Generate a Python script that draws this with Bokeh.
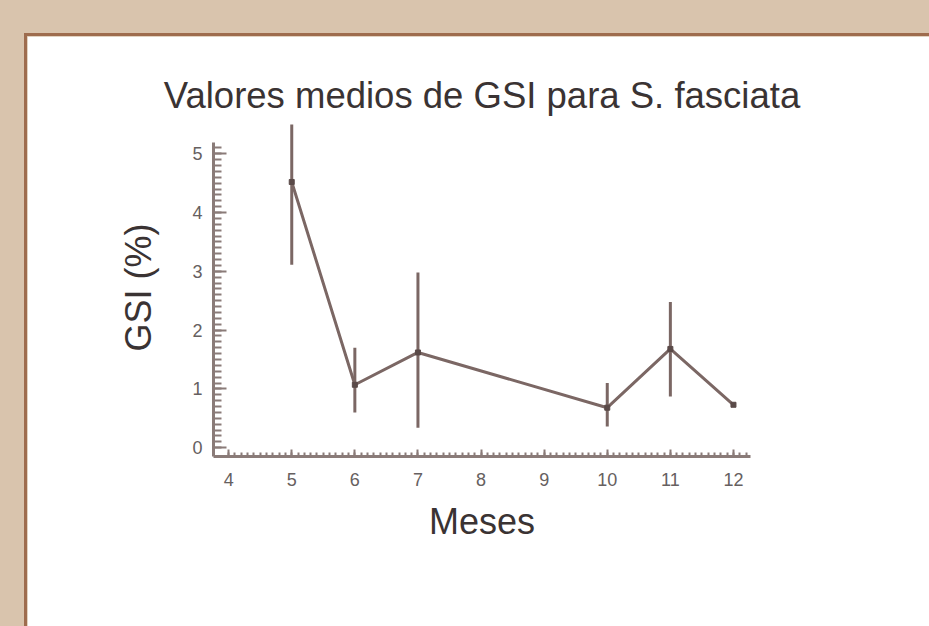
from bokeh.plotting import figure
from bokeh.layouts import column
from bokeh.models import Range1d, FixedTicker
from bokeh.embed import file_html
from bokeh.resources import INLINE

# data
months = [5, 6, 7, 10, 11, 12]
gsi_mean = [4.52, 1.07, 1.62, 0.68, 1.68, 0.73]
gsi_low = [3.11, 0.60, 0.34, 0.36, 0.87, float("nan")]
gsi_high = [5.50, 1.70, 2.98, 1.10, 2.48, float("nan")]
x_ticks = [4, 5, 6, 7, 8, 9, 10, 11, 12]
y_ticks = [0, 1, 2, 3, 4, 5]

line_col = "#7b6764"
axis_col = "#8a7b78"

p = figure(width=906, height=594, output_backend="svg", toolbar_location=None,
           x_range=Range1d(3.76, 12.27), y_range=Range1d(-0.15, 5.6),
           min_border_left=186, min_border_right=183,
           min_border_top=82, min_border_bottom=174)
p.margin = (33, 0, 0, 24)
p.styles = {"border-top": "3px solid #9e6c4e", "border-left": "3px solid #9e6c4e"}
p.border_fill_color = "white"
p.background_fill_color = "white"
p.outline_line_color = "white"
p.outline_line_width = 2
p.grid.visible = False

p.title.text = "Valores medios de GSI para S. fasciata"
p.title.text_font = "Liberation Sans"
p.title.text_font_size = "36.5px"
p.title.text_font_style = "normal"
p.title.text_color = "#3a3333"
p.title.align = "center"
p.title.standoff = 5

for ax in (p.xaxis[0], p.yaxis[0]):
    ax.axis_line_color = axis_col
    ax.axis_line_width = 3
    ax.major_tick_line_color = axis_col
    ax.minor_tick_line_color = axis_col
    ax.major_tick_line_width = 2
    ax.minor_tick_line_width = 2
    ax.major_tick_out = 0
    ax.minor_tick_out = 0
    ax.major_label_text_font = "Liberation Sans"
    ax.major_label_text_font_size = "18px"
    ax.major_label_text_color = "#666060"
    ax.axis_label_text_font = "Liberation Sans"
    ax.axis_label_text_font_size = "36px"
    ax.axis_label_text_font_style = "normal"
    ax.axis_label_text_color = "#3a3333"

p.xaxis.ticker = FixedTicker(ticks=x_ticks,
                             minor_ticks=[4 + i / 10 for i in range(0, 84)])
p.yaxis.ticker = FixedTicker(ticks=y_ticks,
                             minor_ticks=[i / 10 for i in range(0, 52)])
p.xaxis.major_tick_in = 7
p.xaxis.minor_tick_in = 4
p.yaxis.major_tick_in = 13
p.yaxis.minor_tick_in = 8
p.xaxis.major_label_standoff = 16
p.yaxis.major_label_standoff = 11
p.yaxis.bounds = (-0.15, 5.2)
p.xaxis.axis_label = "Meses"
p.yaxis.axis_label = "GSI (%)"
p.xaxis.axis_label_standoff = 12
p.yaxis.axis_label_standoff = 30

p.segment(x0=months, y0=gsi_low, x1=months, y1=gsi_high,
          line_color=line_col, line_width=3)
p.line(months, gsi_mean, line_color=line_col, line_width=3)
p.scatter(months, gsi_mean, marker="square", size=5, color="#5a4a48")

layout = column(p, styles={"background-color": "#d9c4ad", "overflow": "hidden"},
                width=929, height=626)

open("out.html", "w").write(file_html(layout, INLINE))
